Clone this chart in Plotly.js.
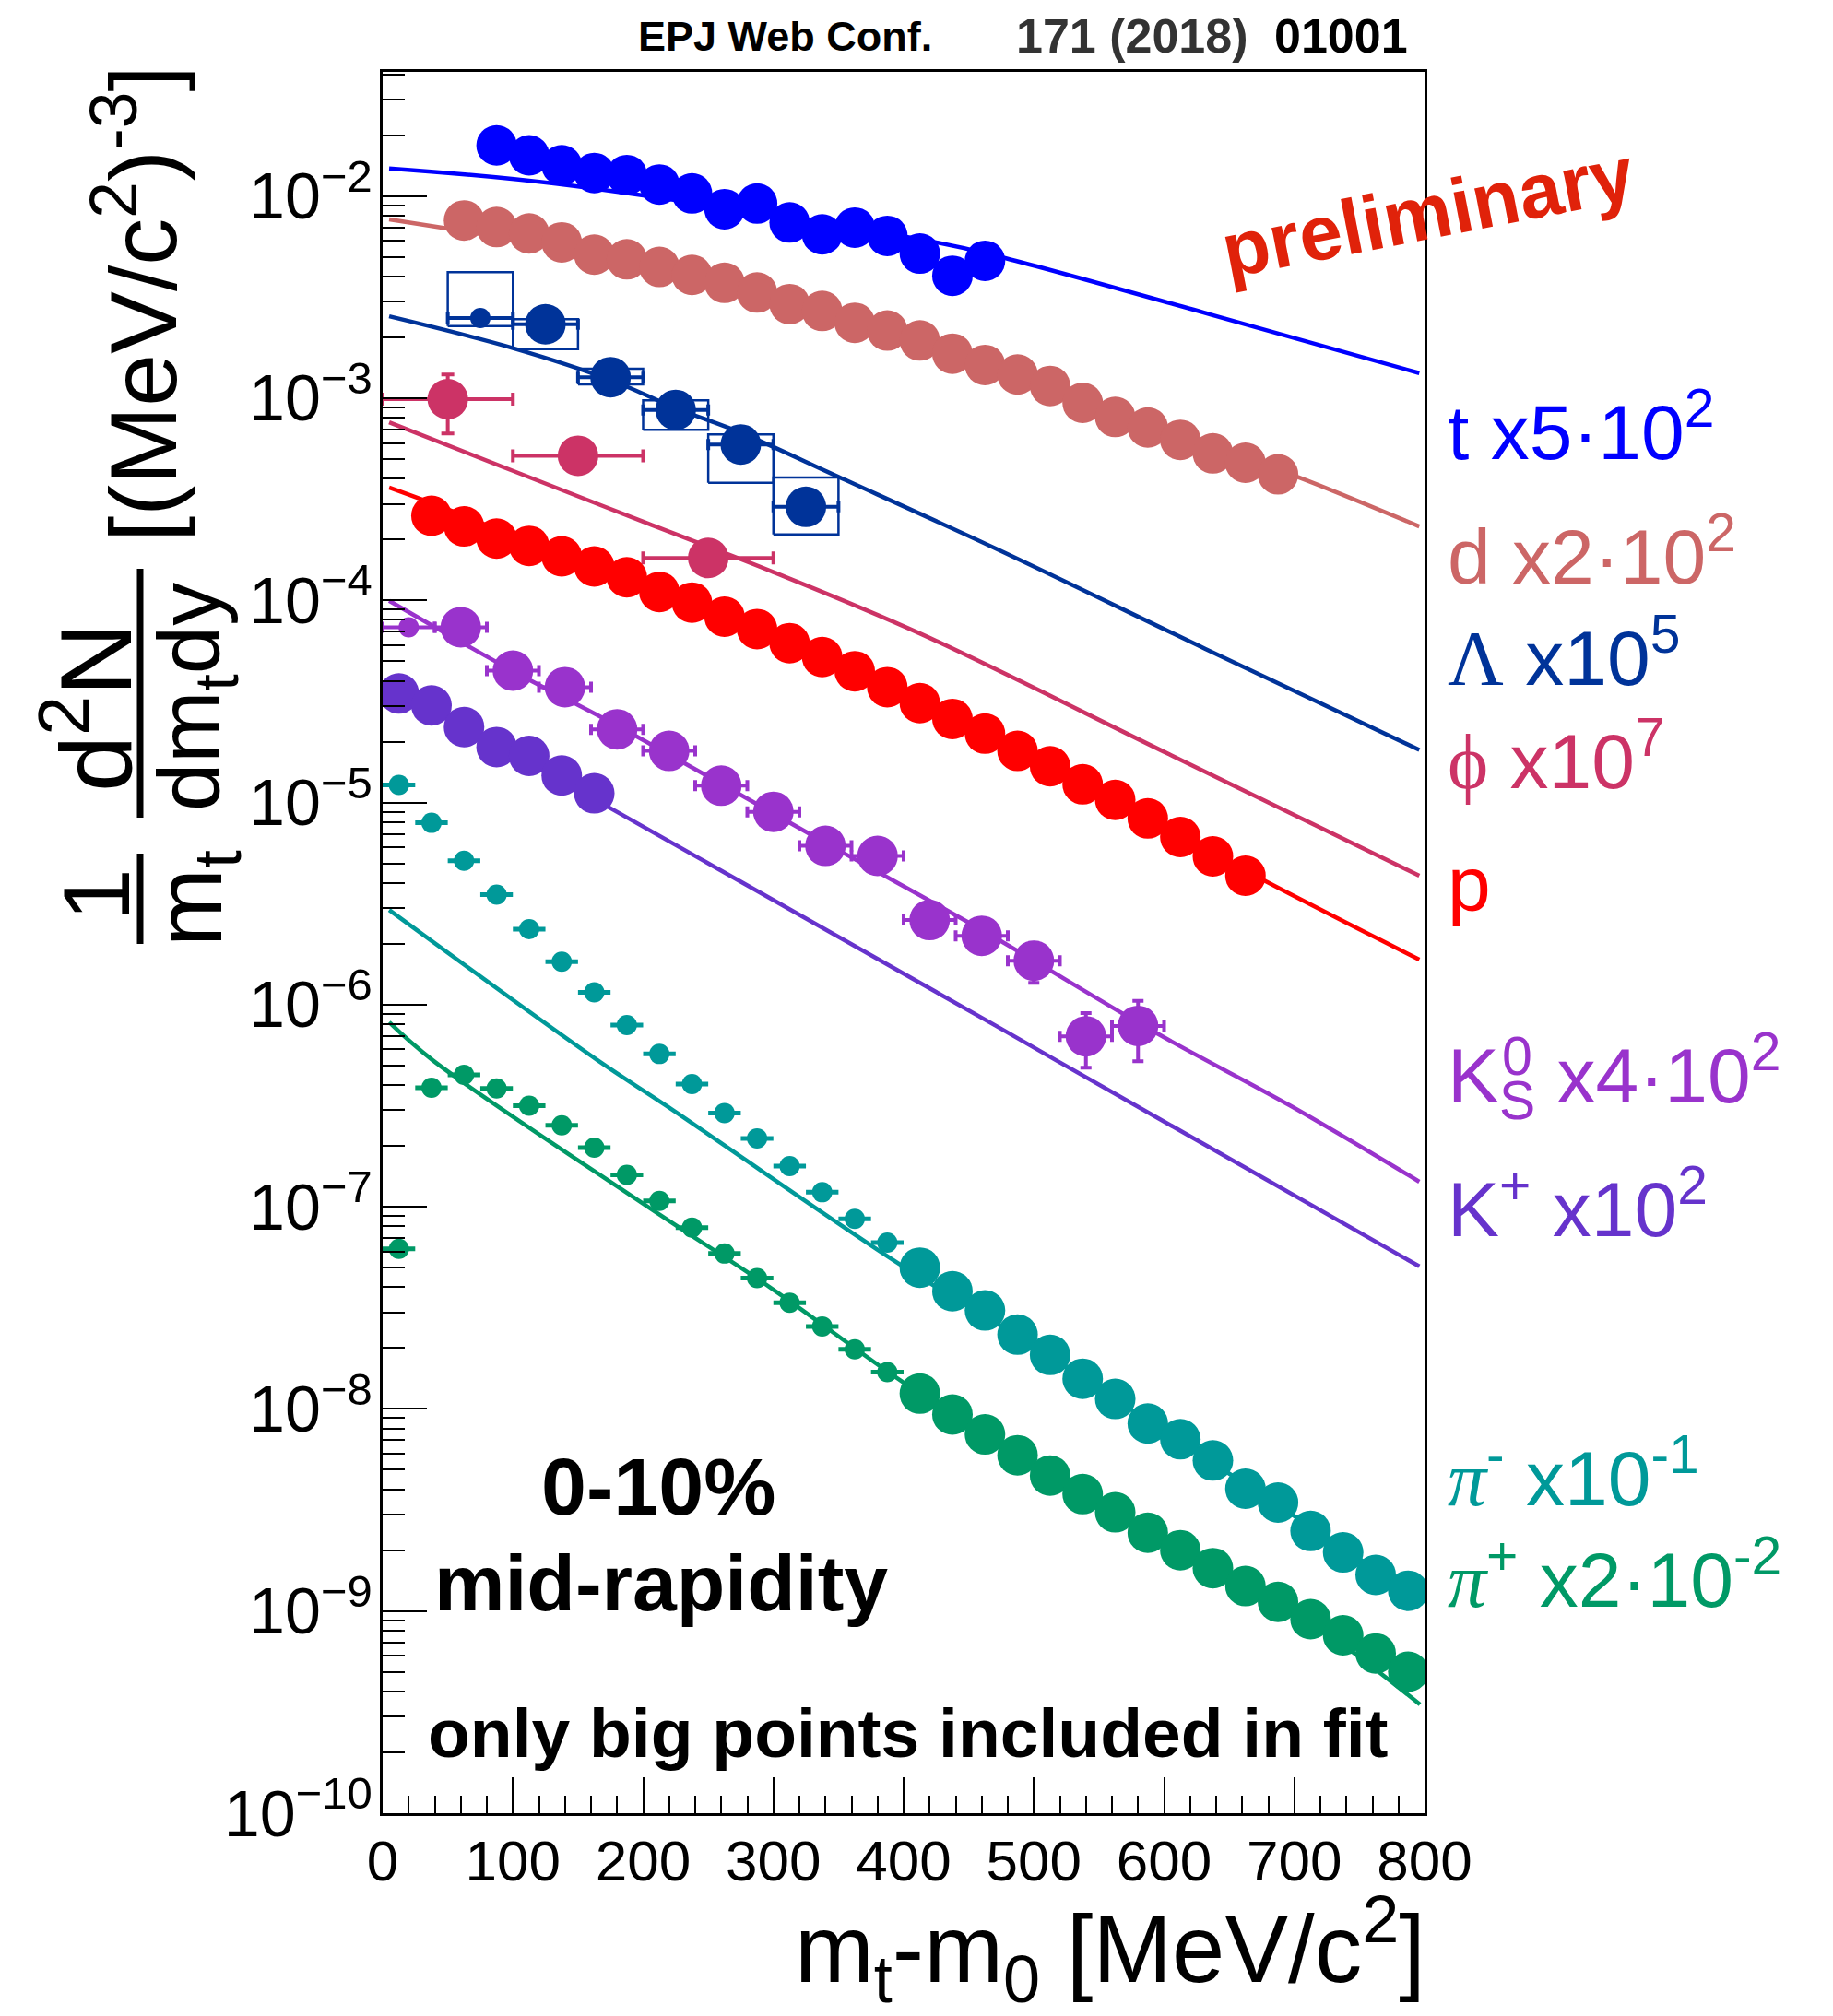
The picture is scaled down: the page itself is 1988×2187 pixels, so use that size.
<!DOCTYPE html>
<html><head><meta charset="utf-8">
<script src="https://cdn.plot.ly/plotly-3.0.1.min.js"></script>
<style>body{margin:0;background:#fff}#chart{width:1988px;height:2187px}</style>
</head><body><div id="chart"></div>
<script>
// ---------------- data ----------------
const tX = [87.5,112.5,137.5,162.5,187.5,212.5,237.5,262.5,287.5,312.5,337.5,362.5,387.5,412.5,437.5,462.5];
const tY = [1.78e-2,1.59e-2,1.42e-2,1.30e-2,1.27e-2,1.14e-2,1.03e-2,8.61e-3,9.18e-3,7.40e-3,6.46e-3,6.98e-3,6.35e-3,5.19e-3,4.03e-3,4.78e-3];
const tFitX = [5,133,425,478,636,796];
const tFitY = [1.37e-2,1.15e-2,5.90e-3,4.93e-3,2.59e-3,1.33e-3];

const dX = [62.5,87.5,112.5,137.5,162.5,187.5,212.5,237.5,262.5,287.5,312.5,337.5,362.5,387.5,412.5,437.5,462.5,487.5,512.5,537.5,562.5,587.5,612.5,637.5,662.5,687.5];
const dY = [7.57e-3,7.02e-3,6.53e-3,5.90e-3,5.13e-3,4.86e-3,4.46e-3,4.07e-3,3.72e-3,3.33e-3,2.92e-3,2.70e-3,2.36e-3,2.16e-3,1.93e-3,1.66e-3,1.46e-3,1.31e-3,1.15e-3,9.48e-4,8.07e-4,7.16e-4,6.22e-4,5.33e-4,4.79e-4,4.20e-4];
const dFitX = [5,48,150,250,350,450,550,650,703,796];
const dFitY = [7.67e-3,6.93e-3,5.37e-3,3.89e-3,2.51e-3,1.55e-3,8.91e-4,5.37e-4,4.07e-4,2.32e-4];

const lamX = [75,125,175,225,275,325];
const lamY = [2.49e-3,2.32e-3,1.27e-3,8.75e-4,5.90e-4,2.90e-4];
const lamXErr = [25,25,25,25,25,25];
const lamSysLo = [2.27e-3,1.75e-3,1.17e-3,6.97e-4,3.81e-4,2.12e-4];
const lamSysHi = [4.20e-3,2.46e-3,1.40e-3,9.75e-4,6.61e-4,4.05e-4];
const lamInFit = [0,1,1,1,1,1];
const lamFitX = [5,100,175,225,275,350,471,631,796];
const lamFitY = [2.54e-3,1.77e-3,1.23e-3,8.93e-4,6.75e-4,4.08e-4,1.80e-4,5.78e-5,1.82e-5];

const phiX = [50,150,250];
const phiY = [9.89e-4,5.19e-4,1.62e-4];
const phiXErr = [50,50,50];
const phiYErr = [3.2e-4,3.0e-5,1.5e-5];
const phiFitX = [5,100,200,300,414,604,796];
const phiFitY = [7.60e-4,4.37e-4,2.45e-4,1.38e-4,6.79e-5,1.73e-5,4.34e-6];

const pX = [37.5,62.5,87.5,112.5,137.5,162.5,187.5,212.5,237.5,262.5,287.5,312.5,337.5,362.5,387.5,412.5,437.5,462.5,487.5,512.5,537.5,562.5,587.5,612.5,637.5,662.5];
const pY = [2.62e-4,2.32e-4,2.02e-4,1.86e-4,1.65e-4,1.47e-4,1.30e-4,1.10e-4,9.75e-5,8.30e-5,7.21e-5,6.14e-5,5.24e-5,4.46e-5,3.72e-5,3.10e-5,2.59e-5,2.19e-5,1.80e-5,1.51e-5,1.23e-5,1.03e-5,8.34e-6,6.75e-6,5.41e-6,4.34e-6];
const pFitX = [5,50,100,200,300,400,500,600,678,796];
const pFitY = [3.61e-4,2.82e-4,2.09e-4,1.20e-4,6.61e-5,3.39e-5,1.66e-5,7.59e-6,4.08e-6,1.67e-6];

const k0X = [20,60,100,140,180,220,260,300,340,380,420,460,500,540,580];
const k0Y = [7.36e-5,7.36e-5,4.49e-5,3.72e-5,2.30e-5,1.80e-5,1.21e-5,8.99e-6,6.10e-6,5.44e-6,2.62e-6,2.19e-6,1.65e-6,6.97e-7,7.85e-7];
const k0XErr = [20,20,20,20,20,20,20,20,20,20,20,20,20,20,20];
const k0YErr = [3e-6,5e-6,3e-6,2.5e-6,1.6e-6,1.3e-6,9e-7,7e-7,5e-7,4.5e-7,2.2e-7,2.0e-7,3.7e-7,2.1e-7,2.6e-7];
const k0InFit = [0,1,1,1,1,1,1,1,1,1,1,1,1,1,1];
const k0FitX = [5,100,180,340,460,594,697,796];
const k0FitY = [9.95e-5,4.47e-5,2.40e-5,6.31e-6,2.34e-6,7.24e-7,3.16e-7,1.33e-7];

const kpX = [12.5,37.5,62.5,87.5,112.5,137.5,162.5];
const kpY = [3.46e-5,3.02e-5,2.36e-5,1.88e-5,1.70e-5,1.36e-5,1.11e-5];
const kpFitX = [5,171,471,517,796];
const kpFitY = [3.89e-5,9.68e-6,7.85e-7,5.31e-7,5.07e-8];

const piX = [12.5,37.5,62.5,87.5,112.5,137.5,162.5,187.5,212.5,237.5,262.5,287.5,312.5,337.5,362.5,387.5,412.5,437.5,462.5,487.5,512.5,537.5,562.5,587.5,612.5,637.5,662.5,687.5,712.5,737.5,762.5,787.5];
const piXErr = 12.5;
const piInFit = [0,0,0,0,0,0,0,0,0,0,0,0,0,0,0,0,1,1,1,1,1,1,1,1,1,1,1,1,1,1,1,1];
const pimY = [1.22e-5,7.93e-6,5.15e-6,3.50e-6,2.36e-6,1.63e-6,1.15e-6,7.93e-7,5.70e-7,4.05e-7,2.91e-7,2.18e-7,1.59e-7,1.18e-7,8.71e-8,6.65e-8,5.00e-8,3.82e-8,3.07e-8,2.33e-8,1.85e-8,1.41e-8,1.12e-8,8.47e-9,7.08e-9,5.56e-9,4.03e-9,3.44e-9,2.49e-9,1.95e-9,1.51e-9,1.26e-9];
const pimFitX = [5,165,218.5,395.5,500,600,700,795];
const pimFitY = [2.94e-6,5.31e-7,3.14e-7,5.27e-8,2.04e-8,7.76e-9,2.95e-9,1.17e-9];
const pipY = [6.19e-8,3.88e-7,4.49e-7,3.85e-7,3.16e-7,2.53e-7,1.96e-7,1.44e-7,1.07e-7,7.89e-8,5.87e-8,4.44e-8,3.35e-8,2.56e-8,1.97e-8,1.52e-8,1.19e-8,9.38e-9,7.48e-9,5.90e-9,4.68e-9,3.79e-9,3.08e-9,2.44e-9,2.00e-9,1.63e-9,1.33e-9,1.11e-9,9.12e-10,7.59e-10,6.17e-10,5.01e-10];
const pipFitX = [5,38.4,199.6,300,400,500,600,700,796.5];
const pipFitY = [8.18e-7,5.31e-7,1.04e-7,3.89e-8,1.35e-8,5.25e-9,2.19e-9,1.0e-9,3.45e-10];

const speciesLabels = [
  't x5·10<sup>2</sup>',
  'd x2·10<sup>2</sup>',
  '<span style="font-family:Liberation Serif">Λ</span> x10<sup>5</sup>',
  '<span style="font-family:Liberation Serif">ϕ</span> x10<sup>7</sup>',
  'p',
  'K<sub>S</sub> x4·10<sup>2</sup>',
  'K<sup>+</sup> x10<sup>2</sup>',
  '<span style="font-family:Liberation Serif"><i>π</i></span><sup>-</sup> x10<sup>-1</sup>',
  '<span style="font-family:Liberation Serif"><i>π</i></span><sup>+</sup> x2·10<sup>-2</sup>'
];
const xTickVals = [0,100,200,300,400,500,600,700,800];

// ---------------- styling ----------------
const C = {t:'#0000ff', d:'#cc6666', lam:'#003399', phi:'#cc3366', p:'#ff0000',
           k0:'#9933cc', kp:'#6633cc', pim:'#009999', pip:'#009966'};
const BIG = 44, SMALL = 22, LW = 4.5;
const FONT = 'Liberation Sans, Arial, sans-serif';

// plot area in pixels
const L = 415, R = 1545, T = 78, B = 1967;
const X = p => (p - L) / (R - L);
const Y = p => (B - p) / (B - T);

function fit(x, y, c) {
  return {x, y, mode:'lines', type:'scatter', line:{color:c, width:LW, shape:'spline'}, hoverinfo:'skip'};
}
function pts(x, y, c, sizes, ex, ey, opts) {
  const tr = {x, y, mode:'markers', type:'scatter',
    marker:{color:c, size:sizes, opacity:1, line:{width:0}}};
  if (ex) tr.error_x = Object.assign({type:'data', array:ex, color:c, thickness:4, width:6}, (opts||{}).ex||{});
  if (ey) tr.error_y = Object.assign({type:'data', array:ey, color:c, thickness:4, width:6}, (opts||{}).ey||{});
  return tr;
}

// Lambda systematic boxes built from the data arrays
const boxX = [], boxY = [];
lamX.forEach((x, i) => {
  const w = lamXErr[i];
  boxX.push(x - w, x + w, x + w, x - w, x - w, null);
  boxY.push(lamSysLo[i], lamSysLo[i], lamSysHi[i], lamSysHi[i], lamSysLo[i], null);
});

const traces = [
  fit(tFitX, tFitY, C.t),
  fit(dFitX, dFitY, C.d),
  fit(lamFitX, lamFitY, C.lam),
  fit(phiFitX, phiFitY, C.phi),
  fit(pFitX, pFitY, C.p),
  fit(k0FitX, k0FitY, C.k0),
  fit(kpFitX, kpFitY, C.kp),
  fit(pimFitX, pimFitY, C.pim),
  fit(pipFitX, pipFitY, C.pip),
  {x:boxX, y:boxY, mode:'lines', type:'scatter', line:{color:C.lam, width:2.5}, hoverinfo:'skip'},
  pts(tX, tY, C.t, BIG),
  pts(dX, dY, C.d, BIG),
  pts(lamX, lamY, C.lam, lamInFit.map(f => f ? BIG : SMALL), lamXErr, null),
  pts(phiX, phiY, C.phi, BIG, phiXErr, phiYErr, {ex:{width:7}, ey:{width:7}}),
  pts(pX, pY, C.p, BIG),
  pts(k0X, k0Y, C.k0, k0InFit.map(f => f ? BIG : SMALL), k0XErr, k0YErr),
  pts(kpX, kpY, C.kp, BIG),
  pts(piX, pimY, C.pim, piInFit.map(f => f ? BIG : SMALL), piX.map(() => piXErr), null, {ex:{width:0, thickness:5}}),
  pts(piX, pipY, C.pip, piInFit.map(f => f ? BIG : SMALL), piX.map(() => piXErr), null, {ex:{width:0, thickness:5}})
];

const labelBase = [500, 635, 745, 857, 990, 1210, 1343, 1635, 1745];
const labelColor = [C.t, C.d, C.lam, C.phi, C.p, C.k0, C.kp, C.pim, C.pip];
const LF = 84;

const ann = [];
speciesLabels.forEach((txt, i) => {
  ann.push({xref:'paper', yref:'paper', x:X(1568), y:Y(labelBase[i] + 0.21*LF), xanchor:'left', yanchor:'bottom',
    text:txt, showarrow:false, font:{family:FONT, size:LF, color:labelColor[i]}});
});
// superscript 0 of K0S, stacked over the subscript S
ann.push({xref:'paper', yref:'paper', x:X(1646), y:Y(1146), xanchor:'center', yanchor:'middle',
  text:'0', showarrow:false, font:{family:FONT, size:59, color:C.k0}});

// top reference
ann.push({xref:'paper', yref:'paper', x:X(690), y:Y(39), xanchor:'left', yanchor:'middle',
  text:'<b>EPJ Web Conf.</b>', showarrow:false, font:{family:FONT, size:45, color:'#000'}});
ann.push({xref:'paper', yref:'paper', x:X(1100), y:Y(39), xanchor:'left', yanchor:'middle',
  text:'<b>171 (2018)</b>', showarrow:false, font:{family:FONT, size:52, color:'#333333'}});
ann.push({xref:'paper', yref:'paper', x:X(1380), y:Y(39), xanchor:'left', yanchor:'middle',
  text:'<b>01001</b>', showarrow:false, font:{family:FONT, size:52, color:'#000'}});

// preliminary
ann.push({xref:'paper', yref:'paper', x:X(1548), y:Y(230), xanchor:'center', yanchor:'middle', textangle:-11,
  text:'<b>preliminary</b>', showarrow:false, font:{family:FONT, size:84, color:'#e0220a'}});

// in-plot texts
ann.push({xref:'paper', yref:'paper', x:X(714), y:Y(1612), xanchor:'center', yanchor:'middle',
  text:'<b>0-10%</b>', showarrow:false, font:{family:FONT, size:88, color:'#000'}});
ann.push({xref:'paper', yref:'paper', x:X(717), y:Y(1717), xanchor:'center', yanchor:'middle',
  text:'<b>mid-rapidity</b>', showarrow:false, font:{family:FONT, size:86, color:'#000'}});
ann.push({xref:'paper', yref:'paper', x:X(985), y:Y(1880), xanchor:'center', yanchor:'middle',
  text:'<b>only big points included in fit</b>', showarrow:false, font:{family:FONT, size:75, color:'#000'}});

// x axis title
ann.push({xref:'paper', yref:'paper', x:X(1548), y:Y(2114), xanchor:'right', yanchor:'middle',
  text:'m<sub>t</sub>-m<sub>0</sub> [MeV/c<sup>2</sup>]', showarrow:false, font:{family:FONT, size:103, color:'#000'}});

// y axis title (two stacked fractions + unit), rotated
const YT = 102;
ann.push({xref:'paper', yref:'paper', x:X(105), y:Y(971), textangle:-90, xanchor:'center', yanchor:'middle',
  text:'1', showarrow:false, font:{family:FONT, size:YT, color:'#000'}});
ann.push({xref:'paper', yref:'paper', x:X(212), y:Y(975), textangle:-90, xanchor:'center', yanchor:'middle',
  text:'m<sub>t</sub>', showarrow:false, font:{family:FONT, size:YT, color:'#000'}});
ann.push({xref:'paper', yref:'paper', x:X(95), y:Y(768), textangle:-90, xanchor:'center', yanchor:'middle',
  text:'d<sup>2</sup>N', showarrow:false, font:{family:FONT, size:YT+8, color:'#000'}});
ann.push({xref:'paper', yref:'paper', x:X(212), y:Y(756), textangle:-90, xanchor:'center', yanchor:'middle',
  text:'dm<sub>t</sub>dy', showarrow:false, font:{family:FONT, size:94, color:'#000'}});
ann.push({xref:'paper', yref:'paper', x:X(148), y:Y(330), textangle:-90, xanchor:'center', yanchor:'middle',
  text:'[(MeV/c<sup>2</sup>)<sup>-3</sup>]', showarrow:false, font:{family:FONT, size:YT, color:'#000'}});

const shapes = [
  {type:'line', xref:'paper', yref:'paper', x0:X(152), x1:X(152), y0:Y(926), y1:Y(1024), line:{color:'#000', width:7}},
  {type:'line', xref:'paper', yref:'paper', x0:X(152), x1:X(152), y0:Y(617), y1:Y(887), line:{color:'#000', width:7}}
];

const layout = {
  width:1988, height:2187,
  margin:{l:L, r:1988-R, t:T, b:2187-B, pad:0},
  paper_bgcolor:'#fff', plot_bgcolor:'#fff',
  showlegend:false,
  font:{family:FONT, color:'#000'},
  xaxis:{range:[0,800], tickvals:xTickVals, ticks:'inside', ticklen:39, tickwidth:2, tickcolor:'#000',
    minor:{ticks:'inside', dtick:20, ticklen:19, tickwidth:2, tickcolor:'#000'},
    showline:true, linewidth:3, linecolor:'#000', mirror:true, showgrid:false, zeroline:false,
    tickfont:{family:FONT, size:62, color:'#000'}, ticklabelstandoff:-4},
  yaxis:{type:'log', range:[-10,-1.386], dtick:1, exponentformat:'power', showexponent:'all',
    ticks:'inside', ticklen:48, tickwidth:2, tickcolor:'#000',
    minor:{ticks:'inside', dtick:'D1', ticklen:24, tickwidth:2, tickcolor:'#000'},
    showline:true, linewidth:3, linecolor:'#000', mirror:true, showgrid:false, zeroline:false,
    tickfont:{family:FONT, size:56, color:'#000'}, ticklabelstandoff:-3},
  annotations:ann,
  shapes:shapes
};

Plotly.newPlot('chart', traces, layout, {displayModeBar:false, staticPlot:true});
</script></body></html>
